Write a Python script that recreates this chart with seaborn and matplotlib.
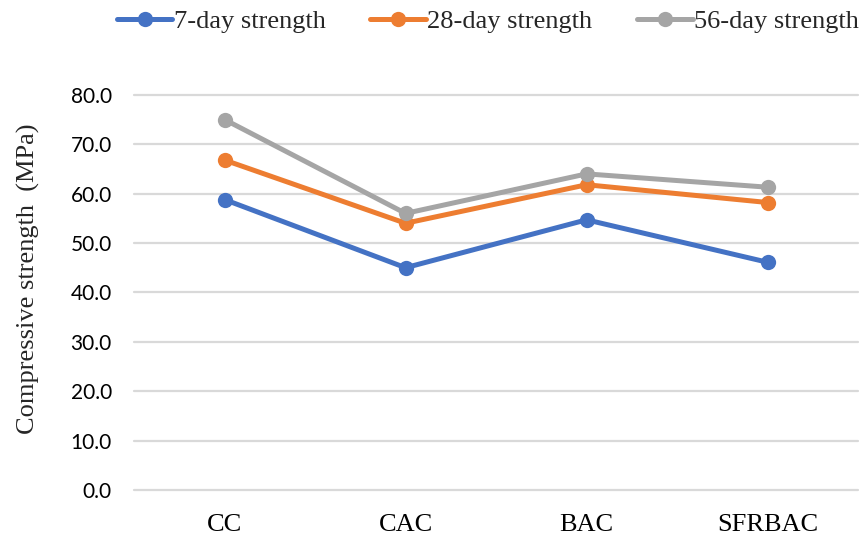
import matplotlib.pyplot as plt
import pandas as pd
import seaborn as sns

categories = ["CC", "CAC", "BAC", "SFRBAC"]
series_names = ["7-day strength", "28-day strength", "56-day strength"]
day7 = [58.8, 45.0, 54.7, 46.1]
day28 = [66.8, 54.0, 61.8, 58.2]
day56 = [75.0, 56.0, 64.0, 61.3]
y_ticks = [0, 10, 20, 30, 40, 50, 60, 70, 80]

colors = ["#4472C4", "#ED7D31", "#A5A5A5"]

sns.set_theme(style="white")
plt.rcParams["font.family"] = ["Liberation Serif", "DejaVu Serif"]

df = pd.DataFrame(
    {
        "category": categories * 3,
        "value": day7 + day28 + day56,
        "series": [series_names[0]] * 4 + [series_names[1]] * 4 + [series_names[2]] * 4,
    }
)

fig = plt.figure(figsize=(8.59, 5.36), dpi=100)
ax = fig.add_axes([0.156, 0.086, 0.843, 0.737])
sns.lineplot(
    data=df,
    x="category",
    y="value",
    hue="series",
    palette=colors,
    marker="o",
    markersize=11,
    markeredgewidth=0,
    linewidth=3.6,
    sort=False,
    ax=ax,
)
ax.set_xlim(-0.5, 3.5)
ax.set_ylim(0, 80)
ax.set_yticks(y_ticks)
ax.set_yticklabels([f"{v:.1f}" for v in y_ticks], family=["Lato", "DejaVu Sans"], fontsize=15)
ax.yaxis.grid(True, color="#D9D9D9", linewidth=1.6)
for gl in ax.get_ygridlines():
    gl.set_clip_on(False)
ax.set_axisbelow(True)
for s in ax.spines.values():
    s.set_visible(False)
ax.tick_params(axis="both", length=0, colors="#000000")
ax.tick_params(axis="y", pad=16)
ax.tick_params(axis="x", labelsize=19, pad=17)
ax.set_xlabel("")
ax.set_ylabel("Compressive strength  (MPa)", fontsize=19, labelpad=22)
ax.yaxis.set_label_coords(-0.13, 0.535)

handles, labels = ax.get_legend_handles_labels()
ax.get_legend().remove()
fig.legend(
    handles,
    labels,
    loc="upper center",
    bbox_to_anchor=(0.568, 1.027),
    ncol=3,
    frameon=False,
    fontsize=19,
    handlelength=2.1,
    columnspacing=1.7,
    handletextpad=0.05,
)

fig.savefig("out.png", dpi=100)
